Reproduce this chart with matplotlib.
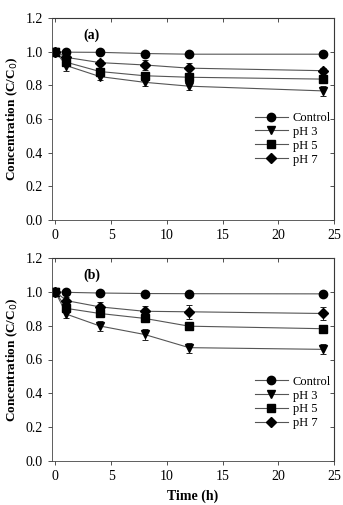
import matplotlib
matplotlib.use("Agg")
import matplotlib.pyplot as plt
from matplotlib.lines import Line2D
import numpy as np

plt.rcParams['font.family'] = ['Liberation Serif', 'DejaVu Serif']

time = [0, 1, 4, 8, 12, 24]
series_names = ["Control", "pH 3", "pH 5", "pH 7"]
markers = ['o', 'v', 's', 'D']

a_control = [1.0, 0.997, 0.996, 0.989, 0.985, 0.985]
a_ph3 = [1.0, 0.917, 0.852, 0.818, 0.795, 0.767]
a_ph5 = [1.0, 0.937, 0.882, 0.857, 0.848, 0.837]
a_ph7 = [1.0, 0.966, 0.935, 0.921, 0.902, 0.887]
a_control_err = [0.0, 0.005, 0.005, 0.005, 0.005, 0.005]
a_ph3_err = [0.0, 0.03, 0.02, 0.02, 0.02, 0.03]
a_ph5_err = [0.0, 0.015, 0.015, 0.015, 0.015, 0.015]
a_ph7_err = [0.0, 0.02, 0.015, 0.03, 0.03, 0.015]

b_control = [1.0, 0.997, 0.993, 0.99, 0.989, 0.988]
b_ph3 = [1.0, 0.868, 0.798, 0.748, 0.67, 0.66]
b_ph5 = [1.0, 0.902, 0.872, 0.843, 0.797, 0.782]
b_ph7 = [1.0, 0.948, 0.911, 0.885, 0.882, 0.872]
b_control_err = [0.0, 0.005, 0.005, 0.005, 0.005, 0.005]
b_ph3_err = [0.0, 0.02, 0.03, 0.03, 0.03, 0.03]
b_ph5_err = [0.0, 0.015, 0.015, 0.015, 0.01, 0.02]
b_ph7_err = [0.0, 0.02, 0.03, 0.03, 0.04, 0.04]

panels = [
    ("(a)", [a_control, a_ph3, a_ph5, a_ph7], [a_control_err, a_ph3_err, a_ph5_err, a_ph7_err]),
    ("(b)", [b_control, b_ph3, b_ph5, b_ph7], [b_control_err, b_ph3_err, b_ph5_err, b_ph7_err]),
]

fig = plt.figure(figsize=(3.43, 5.05), dpi=100)
W, H = 343, 505
axes_px = [(52, 18, 334, 220), (52, 258, 334, 461)]
legend_anchor = [(0.72, 0.535), (0.72, 0.42)]
line_col = '#555555'

for (label, ys, errs), (l, t, r, b), anc in zip(panels, axes_px, legend_anchor):
    ax = fig.add_axes([l / W, 1 - b / H, (r - l) / W, (b - t) / H])
    handles = []
    for name, y, e, m in zip(series_names, ys, errs, markers):
        ms = 6 if m != 'D' else 5
        ax.errorbar(time, y, yerr=e, marker=m, color=line_col, mfc='black', mec='black',
                    ms=ms, lw=0.8, ecolor='#222222', elinewidth=0.7,
                    capsize=2.5, capthick=0.7)
        handles.append(Line2D([], [], marker=m, color=line_col, mfc='black', mec='black',
                              ms=ms, lw=0.8, label=name))
    ax.set_xlim(-0.3, 25)
    ax.set_ylim(0, 1.2)
    ax.set_xticks(np.arange(0, 26, 5))
    ax.set_yticks(np.arange(0, 1.21, 0.2))
    ax.set_yticklabels([f"{v:.1f}" for v in np.arange(0, 1.21, 0.2)])
    ax.tick_params(axis='both', labelsize=10, direction='out', length=3, width=0.6,
                   colors='#333333', labelcolor='black')
    for s in ax.spines.values():
        s.set_linewidth(0.6)
        s.set_color('#444444')
    sx = ax.secondary_xaxis('top')
    sx.set_xticks(np.arange(0, 26, 5))
    sx.tick_params(direction='in', length=3, width=0.6, labeltop=False, colors='#333333')
    sy = ax.secondary_yaxis('right')
    sy.set_yticks(np.arange(0, 1.21, 0.2))
    sy.tick_params(direction='in', length=3, width=0.6, labelright=False, colors='#333333')
    ax.text(2.5, 1.1, label, fontsize=10, fontweight='bold', ha='left', va='center')
    ax.set_ylabel("Concentration (C/C$_0$)", fontsize=9.5, fontweight='bold', labelpad=4)
    ax.legend(handles=handles, loc='upper left', bbox_to_anchor=anc, frameon=False,
              fontsize=9, handlelength=2.6, labelspacing=0.15, handletextpad=0.4,
              borderaxespad=0, borderpad=0)
    if label == "(b)":
        ax.set_xlabel("Time (h)", fontsize=10, fontweight='bold', labelpad=5)

fig.savefig("out.png", dpi=100)
